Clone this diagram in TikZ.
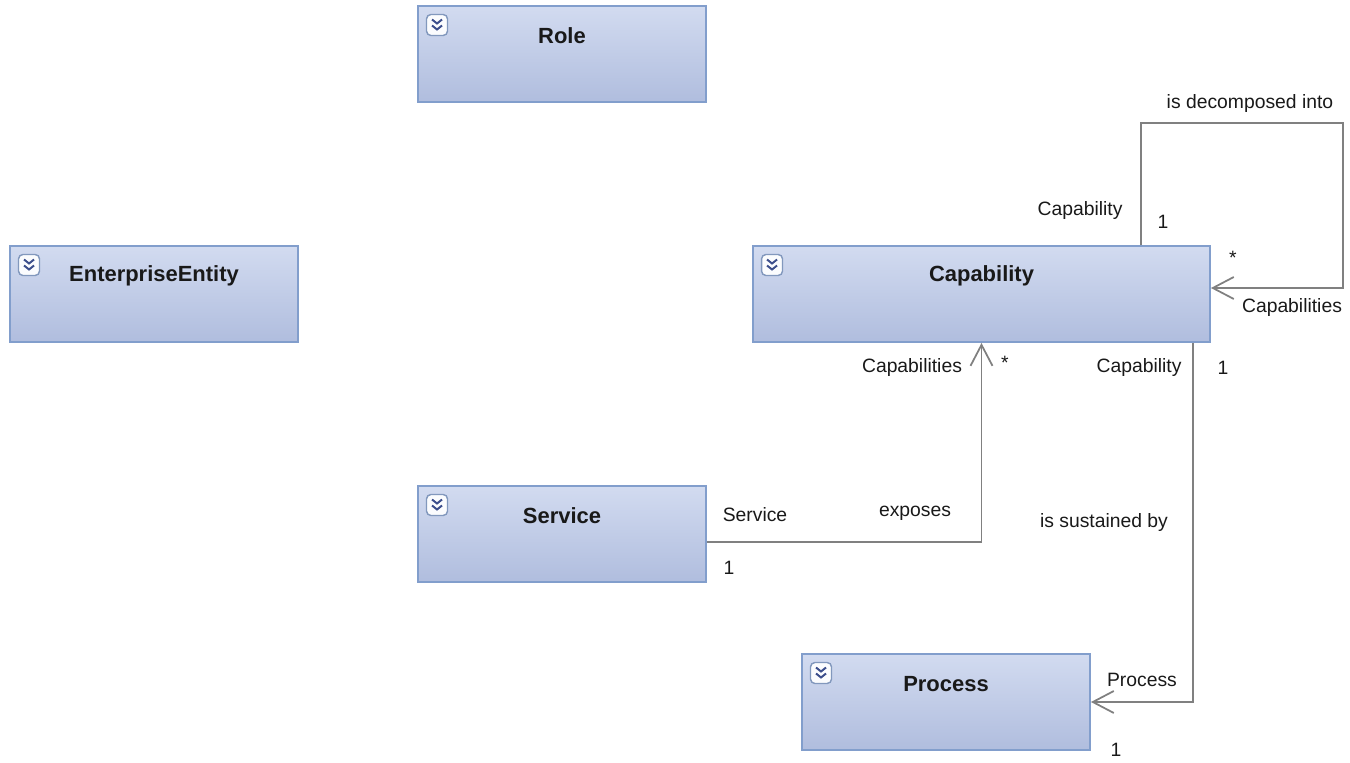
\documentclass[tikz,border=0pt]{standalone}
\usepackage{fontspec}
\setmainfont{Liberation Sans}
\usetikzlibrary{arrows.meta, positioning, calc}

\definecolor{boxtop}{RGB}{210,219,240}
\definecolor{boxbot}{RGB}{176,189,222}
\definecolor{boxedge}{RGB}{130,158,204}
\definecolor{assocgray}{RGB}{128,128,128}
\definecolor{iconblue}{RGB}{60,78,140}

\begin{document}
\begin{tikzpicture}[
    x=0.02cm, y=-0.02cm,
    entity/.style={
        rectangle,
        minimum width=5.76cm,
        minimum height=1.92cm,
        draw=boxedge,
        line width=1.1pt,
        top color=boxtop,
        bottom color=boxbot,
        inner sep=0pt,
        label={[anchor=center, yshift=-0.62cm, font=\fontsize{12.5}{14}\selectfont\bfseries, text=black!90]north:#1},
        path picture={
            \coordinate (ic) at ($(path picture bounding box.north west)+(0.17cm,-0.17cm)$);
            \draw[boxedge!80!gray, line width=0.8pt, fill=white!92!boxtop, rounded corners=2.5pt] (ic) rectangle ++(0.42cm,-0.42cm);
            \draw[iconblue, line width=1.1pt] ($(ic)+(0.11cm,-0.1cm)$) -- ++(0.1cm,-0.08cm) -- ++(0.1cm,0.08cm);
            \draw[iconblue, line width=1.1pt] ($(ic)+(0.11cm,-0.22cm)$) -- ++(0.1cm,-0.08cm) -- ++(0.1cm,0.08cm);
        }
    },
    assoc/.style={
        draw=assocgray,
        line width=1pt,
        -{Straight Barb[length=0.42cm, width=0.44cm]}
    },
    rolename/.style={
        font=\fontsize{11}{13}\selectfont,
        inner sep=0pt,
        text=black!90
    }
]
\useasboundingbox (0,0) rectangle (1350,763);

% classes
\node (role) [entity=Role] at (562,54) {};
\node (enterprise) [entity=EnterpriseEntity] at (154,294) {};
\node (capability) [entity=Capability, minimum width=9.14cm] at (981.5,294) {};
\node (service) [entity=Service] at (562,534) {};
\node (process) [entity=Process] at (946,702) {};

\coordinate (loopcorner) at (1343,123);

% associations
\draw [assoc] ([xshift=-1.4cm]capability.north east) |- (loopcorner) |- ([yshift=0.12cm]capability.east);
\draw [assoc] ([yshift=-0.16cm]service.east) -| (capability.south);
\draw [assoc] ([xshift=-0.36cm]capability.south east) |- (process.east);

% self association labels
\node (decomp) [rolename] at (1250,104) {is decomposed into};
\node (selfsrc) [rolename] at (1080,211) {Capability};
\node (selfsrcm) [rolename] at (1163,222) {1};
\node (selftgtm) [rolename] at (1233,258) {*};
\node (selftgt) [rolename] at (1292,308) {Capabilities};

% exposes labels
\node (exposes) [rolename] at (915,513) {exposes};
\node (svcsrc) [rolename] at (755,515) {Service};
\node (svcsrcm) [rolename] at (729,568) {1};
\node (svctgt) [rolename] at (912,368) {Capabilities};
\node (svctgtm) [rolename] at (1005,363) {*};

% sustained labels
\node (sustained) [rolename] at (1104,523) {is sustained by};
\node (procsrc) [rolename] at (1139,368) {Capability};
\node (procsrcm) [rolename] at (1223,368) {1};
\node (proctgt) [rolename] at (1142,680) {Process};
\node (proctgtm) [rolename] at (1116,750) {1};
\end{tikzpicture}
\end{document}
